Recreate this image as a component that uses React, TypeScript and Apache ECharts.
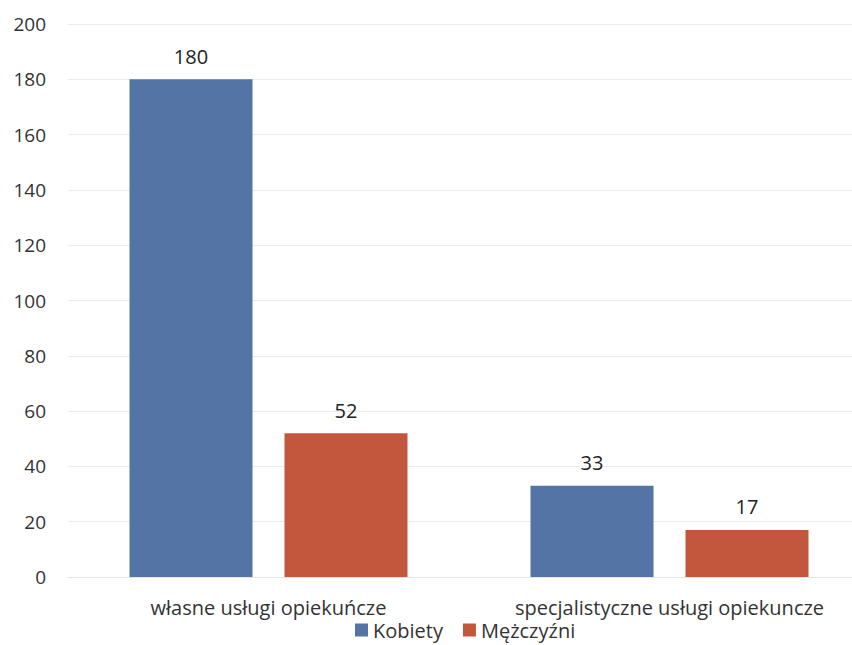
import React, { useEffect, useRef } from "react";
import * as echarts from "echarts";

const categories = ["własne usługi opiekuńcze", "specjalistyczne usługi opiekuncze"];
const seriesNames = ["Kobiety", "Mężczyźni"];
const kobiety = [180, 33];
const mezczyzni = [52, 17];

const FONT = "'Open Sans', 'Noto Sans', sans-serif";

export default function App() {
  const ref = useRef<HTMLDivElement>(null);
  useEffect(() => {
    document.body.style.margin = "0";
    document.body.style.overflow = "hidden";
    const chart = echarts.init(ref.current!, undefined, { renderer: "svg" });
    chart.setOption({
      animation: false,
      backgroundColor: "#ffffff",
      textStyle: { fontFamily: FONT },
      grid: { left: 68, top: 24, right: 2, bottom: 68, containLabel: false },
      legend: {
        bottom: 0,
        left: 350,
        itemWidth: 13,
        itemHeight: 13,
        itemGap: 20,
        icon: "rect",
        textStyle: { fontSize: 20, color: "#333", fontFamily: FONT },
        data: seriesNames,
      },
      xAxis: {
        type: "category",
        data: categories,
        axisLine: { show: true, lineStyle: { color: "#e4e4e4", width: 1 } },
        axisTick: { show: false },
        axisLabel: { interval: 0, hideOverlap: false, fontSize: 20, color: "#333", margin: 20, fontFamily: FONT },
      },
      yAxis: {
        type: "value",
        min: 0,
        max: 200,
        interval: 20,
        axisLine: { show: false },
        axisTick: { show: false },
        splitLine: { lineStyle: { color: "#ececec", width: 1 } },
        axisLabel: { fontSize: 19, color: "#333", margin: 22, fontFamily: FONT },
      },
      series: [
        {
          name: seriesNames[0],
          type: "bar",
          data: kobiety,
          barWidth: 123,
          barGap: "26%",
          itemStyle: { color: "#5574a6" },
          label: { show: true, position: "top", distance: 13, fontSize: 20, color: "#222", fontFamily: FONT },
        },
        {
          name: seriesNames[1],
          type: "bar",
          data: mezczyzni,
          barWidth: 123,
          itemStyle: { color: "#c2573d" },
          label: { show: true, position: "top", distance: 13, fontSize: 20, color: "#222", fontFamily: FONT },
        },
      ],
    });
    return () => chart.dispose();
  }, []);
  return (
    <div style={{ position: "absolute", left: 0, top: 0, width: 852, height: 645, overflow: "hidden" }}>
      <div ref={ref} style={{ width: 872, height: 645 }} />
    </div>
  );
}
